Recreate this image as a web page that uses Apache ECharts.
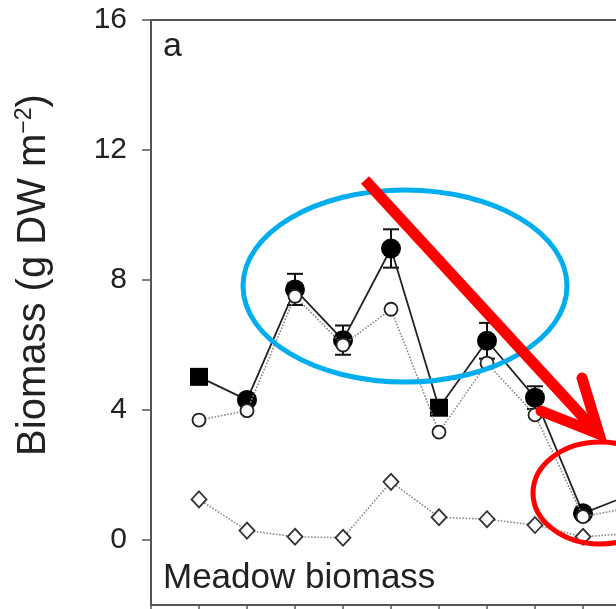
<!DOCTYPE html>
<html>
<head>
<meta charset="utf-8">
<script src="https://cdn.jsdelivr.net/npm/echarts@6/dist/echarts.min.js"></script>
<style>
html,body{margin:0;padding:0;background:#fff;}
#chart{width:616px;height:609px;}
</style>
</head>
<body>
<div id="chart"></div>
<script>
// Sampling occasions (x positions)
const occasions = [1, 2, 3, 4, 5, 6, 7, 8, 9, 10];
// Total meadow biomass (filled markers, solid line) and its error
const totalBiomass = [5.02, 4.31, 7.71, 6.15, 8.97, 4.07, 6.13, 4.38, 0.82, 1.4];
const totalError   = [0.15, 0.12, 0.48, 0.45, 0.59, 0.20, 0.55, 0.35, 0.10, 0.20];
const totalSymbols = ['rect', 'circle', 'circle', 'circle', 'circle', 'rect', 'circle', 'circle', 'circle', 'circle'];
// Second component (open circles, dotted line)
const circleBiomass = [3.69, 3.98, 7.50, 6.00, 7.10, 3.32, 5.44, 3.85, 0.72, 1.0];
// Third component (open diamonds, dotted line)
const diamondBiomass = [1.25, 0.29, 0.10, 0.07, 1.79, 0.70, 0.64, 0.46, 0.10, 0.2];
// Y tick labels
const yTicks = [0, 4, 8, 12, 16];

const FONT = '"Liberation Sans", Arial, Helvetica, sans-serif';

const chart = echarts.init(document.getElementById('chart'));

const totalData = occasions.map((x, i) => ({ value: [x, totalBiomass[i]], symbol: totalSymbols[i], symbolSize: totalSymbols[i] === 'rect' ? 18 : 20 }));
const errData = occasions.map((x, i) => [x, totalBiomass[i] - totalError[i], totalBiomass[i] + totalError[i]]);
const circleData = occasions.map((x, i) => [x, circleBiomass[i]]);
const diamondData = occasions.map((x, i) => [x, diamondBiomass[i]]);

const option = {
  animation: false,
  backgroundColor: '#fff',
  grid: {
    left: 151, top: 20, width: 576, height: 585,
    outerBoundsMode: 'none', containLabel: false,
    show: true, borderColor: '#555', borderWidth: 2, backgroundColor: 'transparent'
  },
  xAxis: {
    type: 'value', min: 0, max: 12, interval: 1,
    axisLine: { show: true, onZero: false, lineStyle: { color: '#555', width: 2 } },
    axisTick: { show: true, inside: false, length: 6, lineStyle: { color: '#555', width: 1.5 } },
    axisLabel: { show: false },
    splitLine: { show: false }
  },
  yAxis: {
    type: 'value', min: -2, max: 16, interval: 2,
    axisLine: { show: true, onZero: false, lineStyle: { color: '#555', width: 2 } },
    axisTick: { show: true, inside: false, length: 9, customValues: yTicks, lineStyle: { color: '#555', width: 1.5 } },
    axisLabel: { show: true, customValues: yTicks, fontFamily: FONT, fontSize: 30, color: '#222', margin: 24 },
    splitLine: { show: false }
  },
  series: [
    {
      type: 'line', data: diamondData, z: 2,
      symbol: 'diamond', symbolSize: [15, 16],
      lineStyle: { color: '#888', width: 1.6, type: 'dotted' },
      itemStyle: { color: '#fff', borderColor: '#333', borderWidth: 1.8 }
    },
    {
      type: 'custom', data: errData, z: 3,
      renderItem: function (params, api) {
        const x = api.value(0);
        const lo = api.coord([x, api.value(1)]);
        const hi = api.coord([x, api.value(2)]);
        const w = 8;
        const st = { stroke: '#111', lineWidth: 2 };
        return {
          type: 'group',
          children: [
            { type: 'line', shape: { x1: lo[0], y1: lo[1], x2: hi[0], y2: hi[1] }, style: st },
            { type: 'line', shape: { x1: hi[0] - w, y1: hi[1], x2: hi[0] + w, y2: hi[1] }, style: st },
            { type: 'line', shape: { x1: lo[0] - w, y1: lo[1], x2: lo[0] + w, y2: lo[1] }, style: st }
          ]
        };
      }
    },
    {
      type: 'line', data: totalData, z: 4,
      lineStyle: { color: '#222', width: 1.8 },
      itemStyle: { color: '#000', borderColor: '#000', borderWidth: 0 }
    },
    {
      type: 'line', data: circleData, z: 5,
      symbol: 'circle', symbolSize: 13,
      lineStyle: { color: '#888', width: 1.6, type: 'dotted' },
      itemStyle: { color: '#fff', borderColor: '#222', borderWidth: 1.8 }
    }
  ],
  graphic: [
    { type: 'text', x: 34, y: 275, rotation: Math.PI / 2, z: 10,
      style: {
        text: '{a|Biomass (g DW m}{s|−2}{a|)}',
        align: 'center', verticalAlign: 'middle',
        rich: {
          a: { fontFamily: FONT, fontSize: 40, fill: '#222', lineHeight: 42 },
          s: { fontFamily: FONT, fontSize: 23, fill: '#222', verticalAlign: 'top', lineHeight: 42, padding: [0, 0, 15, 0] }
        }
      }
    },
    { type: 'text', left: 163, top: 30, z: 10, style: { text: 'a', fontFamily: FONT, fontSize: 34, fill: '#222' } },
    { type: 'text', left: 163, top: 561, z: 10, style: { text: 'Meadow biomass', fontFamily: FONT, fontSize: 35, fill: '#222' } },
    { type: 'ellipse', z: 20, shape: { cx: 405, cy: 286, rx: 162, ry: 96 }, style: { fill: 'none', stroke: '#00AEEF', lineWidth: 5 } },
    { type: 'ellipse', z: 20, shape: { cx: 600, cy: 493, rx: 67, ry: 51 }, style: { fill: 'none', stroke: '#FF0000', lineWidth: 5 } },
    { type: 'line', z: 21, shape: { x1: 365, y1: 180, x2: 594, y2: 429 }, style: { stroke: '#FF0000', lineWidth: 11, lineCap: 'butt' } },
    { type: 'polyline', z: 21, shape: { points: [[541, 411], [599, 434], [582, 378]] }, style: { fill: 'none', stroke: '#FF0000', lineWidth: 11, lineCap: 'round', lineJoin: 'miter' } }
  ]
};

chart.setOption(option);
</script>
</body>
</html>
